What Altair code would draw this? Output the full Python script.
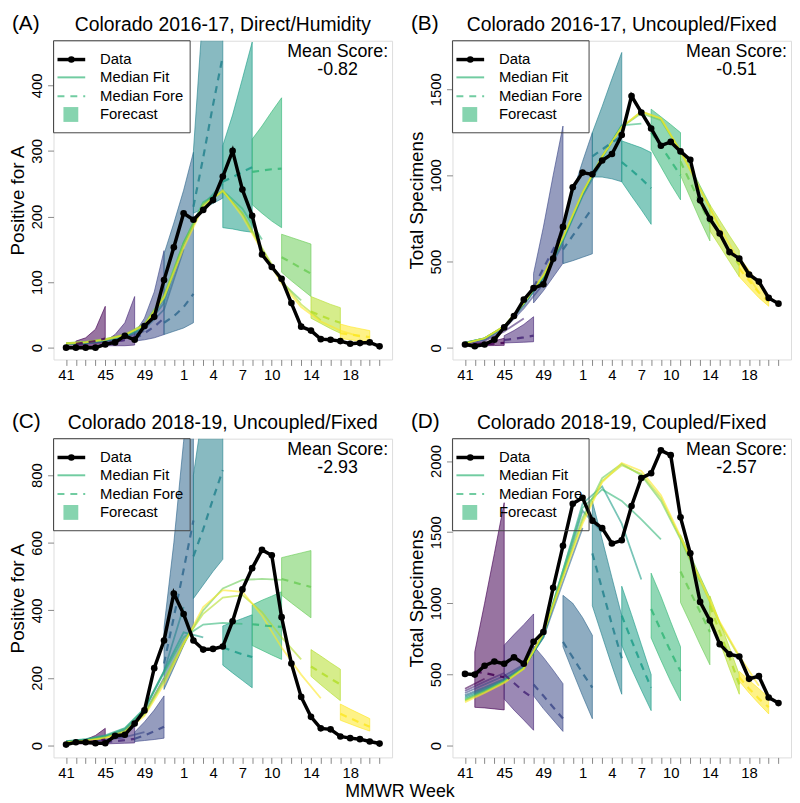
import altair as alt
import pandas as pd

FONT = "Liberation Sans"
VIRIDIS = ["#440154", "#482878", "#3E4A89", "#31688E", "#26828E",
           "#1F9E89", "#35B779", "#6DCD59", "#B4DE2C", "#FDE725"]
KEYS = ["f%d" % i for i in range(10)]

N_WEEKS = 33
TICK_POS = [0, 4, 8, 12, 15, 18, 21, 25, 29]
TICK_LAB = ["41", "45", "49", "1", "4", "7", "10", "14", "18"]
FORE_STARTS = [1, 4, 7, 10, 13, 16, 19, 22, 25, 28]
FIT_STEP = 2

PANEL_LABELS = ["(A)", "(B)", "(C)", "(D)"]
PANEL_TITLES = ["Colorado 2016-17, Direct/Humidity", "Colorado 2016-17, Uncoupled/Fixed",
                "Colorado 2018-19, Uncoupled/Fixed", "Colorado 2018-19, Coupled/Fixed"]
Y_TITLES = ["Positive for A", "Total Specimens", "Positive for A", "Total Specimens"]
MEAN_SCORES = ["-0.82", "-0.51", "-2.93", "-2.57"]
Y_DOMAINS = [[-18, 468], [-68, 1781], [-35, 908], [-83, 2157]]
Y_TICKS = [[0, 100, 200, 300, 400], [0, 500, 1000, 1500], [0, 200, 400, 600, 800],
           [0, 500, 1000, 1500, 2000]]

# ---------------- Panel A ----------------
A_DATA = [0, 0, 0, 0, 5, 8, 18, 12, 33, 47, 103, 153, 205, 195, 210, 225, 261, 300, 241, 201,
          142, 123, 105, 68, 32, 26, 13, 12, 10, 6, 7, 8, 2]
A_HI = [[10, 15, 28, 63], [10, 20, 38, 78], [22, 45, 85, 148], [143, 190, 240, 298],
        [300, 520, 750, 1000], [308, 355, 410, 466], [318, 338, 360, 381], [173, 168, 163, 158],
        [78, 72, 66, 61], [36, 32, 29, 26]]
A_MD = [[6, 8, 10, 14], [6, 9, 12, 16], [14, 22, 32, 45], [38, 48, 62, 82],
        [215, 290, 370, 445], [253, 260, 268, 275], [268, 270, 272, 273], [138, 130, 121, 113],
        [55, 49, 43, 38], [22, 20, 18, 16]]
A_LO = [[3, 3, 3, 3], [3, 3, 3, 4], [10, 12, 15, 20], [20, 25, 30, 38],
        [205, 212, 220, 228], [183, 181, 178, 176], [218, 205, 193, 183], [115, 102, 90, 78],
        [45, 37, 29, 22], [14, 12, 10, 9]]
A_FITS = [[4, 5],
          [5, 6, 8, 11],
          [5, 7, 10, 15, 25],
          [5, 7, 10, 16, 28, 58, 150],
          [5, 7, 11, 17, 30, 68, 160, 215],
          [6, 8, 11, 18, 32, 74, 158, 218, 250],
          [6, 8, 12, 18, 34, 78, 160, 222, 240, 212, 165],
          [7, 9, 13, 20, 36, 80, 160, 220, 238, 205, 150, 100, 72],
          [7, 9, 13, 20, 35, 78, 156, 218, 238, 205, 152, 102, 66, 42],
          [6, 8, 12, 19, 34, 76, 152, 215, 240, 200, 148, 98, 62, 40, 26, 17]]

# ---------------- Panel B ----------------
B_DATA = [19, 9, 19, 47, 118, 184, 279, 346, 368, 517, 701, 931, 1016, 1006, 1086, 1124, 1234,
          1460, 1365, 1272, 1172, 1194, 1139, 1090, 855, 748, 663, 555, 517, 425, 384, 289, 256]
B_HI = [[25, 30, 40, 55], [70, 100, 135, 180], [431, 700, 1000, 1286], [720, 900, 1080, 1248],
        [1248, 1400, 1560, 1713], [1200, 1180, 1160, 1132], [1384, 1340, 1295, 1248],
        [1150, 1050, 940, 830], [830, 740, 650, 564], [526, 450, 370, 298]]
B_MD = [[18, 20, 24, 28], [45, 52, 60, 70], [350, 460, 570, 680], [570, 650, 730, 810],
        [1110, 1150, 1190, 1230], [1077, 1030, 980, 925], [1250, 1170, 1085, 1000],
        [1080, 960, 840, 720], [760, 660, 560, 480], [460, 390, 320, 265]]
B_LO = [[12, 12, 13, 14], [28, 30, 32, 35], [260, 330, 410, 490], [488, 505, 525, 545],
        [991, 990, 980, 963], [963, 880, 800, 716], [1150, 1050, 950, 858],
        [1000, 870, 740, 620], [678, 590, 500, 412], [412, 350, 290, 241]]
B_FITS = [[22, 30],
          [24, 40, 95, 170],
          [25, 45, 110, 230, 370],
          [28, 50, 115, 245, 400, 600],
          [30, 55, 120, 250, 405, 620, 880, 1080],
          [30, 55, 122, 255, 410, 625, 890, 1100, 1290],
          [28, 55, 125, 258, 415, 630, 895, 1110, 1290, 1300],
          [27, 55, 125, 260, 418, 635, 900, 1110, 1280, 1360, 1320, 1140],
          [26, 55, 124, 260, 420, 640, 900, 1110, 1280, 1370, 1330, 1140, 920, 700],
          [25, 55, 125, 260, 420, 640, 900, 1110, 1280, 1370, 1330, 1140, 920, 700, 500, 320]]

# ---------------- Panel C ----------------
C_DATA = [3, 10, 10, 7, 7, 29, 32, 65, 104, 229, 311, 450, 389, 311, 284, 286, 293, 368, 462, 525,
          579, 563, 380, 243, 144, 85, 51, 48, 27, 22, 19, 12, 6]
C_HI = [[10, 18, 30, 51], [15, 25, 38, 55], [40, 70, 105, 147], [350, 600, 900, 1200],
        [800, 1000, 1200, 1400], [354, 365, 376, 387], [416, 430, 442, 455], [556, 563, 570, 577],
        [284, 265, 245, 226], [123, 108, 94, 80]]
C_MD = [[8, 10, 13, 18], [10, 13, 16, 20], [20, 30, 42, 56], [243, 380, 520, 666],
        [560, 640, 730, 815], [291, 280, 270, 262], [359, 356, 353, 351], [493, 485, 477, 469],
        [234, 216, 198, 181], [94, 81, 68, 56]]
C_LO = [[5, 5, 5, 6], [5, 6, 7, 8], [12, 15, 18, 22], [166, 230, 295, 359],
        [435, 475, 515, 551], [238, 215, 193, 171], [296, 282, 268, 255], [445, 422, 400, 378],
        [205, 180, 156, 133], [75, 64, 53, 43]]
C_FITS = [[10, 12],
          [10, 13, 18, 25],
          [10, 13, 18, 25, 40],
          [12, 17, 26, 45, 95, 200],
          [12, 17, 27, 48, 105, 220, 410],
          [13, 19, 30, 52, 110, 220, 335, 320],
          [12, 18, 28, 50, 108, 215, 320, 358, 363, 360],
          [10, 15, 24, 42, 92, 190, 300, 400, 465, 490, 493, 490],
          [10, 15, 24, 43, 95, 195, 305, 390, 438, 445, 395, 320, 255],
          [9, 14, 22, 40, 88, 182, 300, 410, 460, 455, 385, 290, 210, 140]]

# ---------------- Panel D ----------------
D_DATA = [504, 499, 561, 591, 575, 621, 575, 729, 798, 1109, 1404, 1700, 1742, 1581, 1528, 1420,
          1443, 1684, 1880, 1914, 2075, 2041, 1604, 1351, 1010, 879, 713, 642, 626, 469, 488, 338, 299]
D_HI = [[660, 1000, 1350, 1707], [706, 780, 850, 925], [700, 620, 530, 435], [1056, 1000, 900, 775],
        [1719, 1450, 1180, 913], [1120, 920, 710, 499], [1212, 1050, 870, 695],
        [1482, 1340, 1190, 1040], [1052, 870, 690, 499], [522, 460, 400, 338]]
D_MD = [[520, 510, 495, 480], [500, 440, 380, 330], [430, 350, 270, 190], [729, 620, 510, 407],
        [1351, 1100, 850, 614], [913, 740, 570, 407], [960, 810, 660, 522],
        [1224, 1080, 940, 798], [983, 800, 620, 430], [480, 400, 330, 270]]
D_LO = [[269, 265, 258, 251], [327, 250, 180, 108], [350, 260, 180, 100], [695, 520, 350, 189],
        [982, 770, 560, 361], [706, 540, 390, 246], [757, 600, 450, 315],
        [1006, 860, 710, 568], [913, 730, 540, 361], [453, 370, 295, 223]]
D_FITS = [[400, 470],
          [385, 450, 510],
          [370, 430, 490, 570, 785],
          [355, 410, 470, 560, 760, 1150, 1530],
          [345, 400, 460, 550, 760, 1200, 1650, 1500],
          [335, 390, 455, 545, 770, 1230, 1700, 1822, 1560, 1167],
          [325, 385, 450, 545, 780, 1230, 1670, 1800, 1720, 1590, 1450],
          [320, 380, 450, 545, 790, 1200, 1600, 1880, 1980, 1900, 1720, 1450, 1150],
          [315, 375, 445, 540, 790, 1190, 1580, 1860, 1970, 1910, 1740, 1460, 1160, 860, 620],
          [305, 370, 440, 540, 790, 1180, 1560, 1850, 1985, 1930, 1760, 1470, 1170, 870, 630, 420]]

PANELS = [(A_DATA, A_LO, A_MD, A_HI, A_FITS), (B_DATA, B_LO, B_MD, B_HI, B_FITS),
          (C_DATA, C_LO, C_MD, C_HI, C_FITS), (D_DATA, D_LO, D_MD, D_HI, D_FITS)]

W, H = 342, 322
ONE = pd.DataFrame({"o": [0]})
LEG_COLOR = "#35B779"

label_expr = "".join("datum.value==%d?'%s':" % (p, l) for p, l in zip(TICK_POS, TICK_LAB)) + "''"


def txt(s, x, y, size=15, align="left"):
    return alt.Chart(ONE).mark_text(text=s, align=align, baseline="middle", fontSize=size,
                                    font=FONT, color="black").encode(x=alt.value(x), y=alt.value(y))


def hrule(x1, x2, y, color, width, opacity=1.0, dash=None):
    kw = dict(color=color, strokeWidth=width, opacity=opacity)
    if dash:
        kw["strokeDash"] = dash
    return alt.Chart(ONE).mark_rule(**kw).encode(x=alt.value(x1), x2=alt.value(x2), y=alt.value(y))


def panel(i):
    data, lo, md, hi, fits = PANELS[i]
    band_rows = []
    for k, s in enumerate(FORE_STARTS):
        for j in range(4):
            band_rows.append({"k": KEYS[k], "x": s + j, "lo": lo[k][j], "md": md[k][j], "hi": hi[k][j]})
    bands = pd.DataFrame(band_rows)
    fit_rows = []
    for k, vals in enumerate(fits):
        for n, v in enumerate(vals):
            fit_rows.append({"k": KEYS[k], "x": n * FIT_STEP, "y": v})
    fitdf = pd.DataFrame(fit_rows)
    dat = pd.DataFrame({"x": list(range(len(data))), "y": data})

    xs = alt.Scale(domain=[-1.28, 33.28], nice=False, zero=False)
    ys = alt.Scale(domain=Y_DOMAINS[i], nice=False, zero=False)
    cs = alt.Scale(domain=KEYS, range=VIRIDIS)
    xaxis = alt.Axis(values=list(range(N_WEEKS)), labelExpr=label_expr, title=None, tickSize=6,
                     labelPadding=2, labelFontSize=15, labelOverlap=False, labelFlush=False,
                     grid=False, domain=False)
    yaxis = alt.Axis(values=Y_TICKS[i], title=Y_TITLES[i], labelAngle=-90, labelAlign="center",
                     labelBaseline="bottom", labelPadding=3, labelFontSize=15, tickSize=6,
                     titleFontSize=19, titlePadding=2, titleFontWeight="normal", format="d",
                     grid=False, domain=False)
    X = alt.X("x:Q", scale=xs, axis=xaxis)

    band = alt.Chart(bands).mark_area(clip=True, fillOpacity=0.55, strokeOpacity=0.8,
                                      strokeWidth=0.8).encode(
        x=X, y=alt.Y("lo:Q", scale=ys, axis=yaxis), y2="hi:Q",
        color=alt.Color("k:N", scale=cs, legend=None),
        stroke=alt.Stroke("k:N", scale=cs, legend=None))
    fit = alt.Chart(fitdf).mark_line(clip=True, strokeWidth=1.8, opacity=0.6).encode(
        x=X, y=alt.Y("y:Q", scale=ys), color=alt.Color("k:N", scale=cs, legend=None))
    med = alt.Chart(bands).mark_line(clip=True, strokeWidth=2.2, opacity=0.85,
                                     strokeDash=[7, 6]).encode(
        x=X, y=alt.Y("md:Q", scale=ys), color=alt.Color("k:N", scale=cs, legend=None))
    dline = alt.Chart(dat).mark_line(color="black", strokeWidth=3.5).encode(
        x=X, y=alt.Y("y:Q", scale=ys))
    dpts = alt.Chart(dat).mark_circle(color="black", size=45, opacity=1).encode(
        x=X, y=alt.Y("y:Q", scale=ys))

    legend_box = alt.Chart(ONE).mark_rect(fillOpacity=0, stroke="#444", strokeWidth=1).encode(
        x=alt.value(0), x2=alt.value(138), y=alt.value(0), y2=alt.value(93))
    leg_pt = alt.Chart(ONE).mark_circle(color="black", size=45, opacity=1).encode(
        x=alt.value(18), y=alt.value(19))
    leg_sq = alt.Chart(ONE).mark_rect(color=LEG_COLOR, opacity=0.6).encode(
        x=alt.value(10), x2=alt.value(25), y=alt.value(67), y2=alt.value(82))

    layers = [band, fit, med, dline, dpts, legend_box,
              hrule(4, 32, 19, "black", 3.5),
              leg_pt,
              hrule(4, 32, 37, LEG_COLOR, 2, 0.7),
              hrule(4, 32, 56, LEG_COLOR, 2, 0.7, [7, 6]),
              leg_sq,
              txt("Data", 47, 19), txt("Median Fit", 47, 37), txt("Median Fore", 47, 56),
              txt("Forecast", 47, 74),
              txt("Mean Score:", 287, 11, 18, "center"),
              txt(MEAN_SCORES[i], 287, 30, 18, "center"),
              txt(PANEL_TITLES[i], W / 2, -16, 19.5, "center"),
              txt(PANEL_LABELS[i], -42, -17, 21)]
    return alt.layer(*layers).properties(width=W, height=H)


row1 = alt.hconcat(panel(0), panel(1), spacing=14)
row2 = alt.hconcat(panel(2), panel(3), spacing=14)
chart = alt.vconcat(row1, row2, spacing=27).properties(
    padding={"left": 0, "right": 0, "top": 0, "bottom": 0},
    title=alt.TitleParams("MMWR Week", orient="bottom", anchor="middle", fontSize=18,
                          fontWeight="normal", font=FONT, color="black", offset=2)
).configure_view(stroke="#444", strokeWidth=1).configure_axis(
    domain=False, grid=False, labelFont=FONT, titleFont=FONT, labelColor="black",
    titleColor="black", tickColor="#444", titleFontWeight="normal"
).configure(background="white")

chart.save("out.html", embed_options={"renderer": "svg", "actions": False})
